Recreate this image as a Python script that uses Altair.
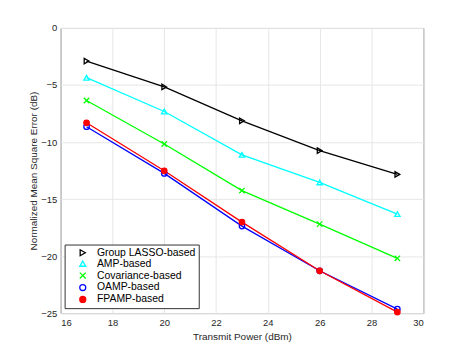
import altair as alt
import pandas as pd

power = [17, 20, 23, 26, 29]
series_names = ["Group LASSO-based", "AMP-based", "Covariance-based", "OAMP-based", "FPAMP-based"]
lasso = [-2.9, -5.17, -8.14, -10.75, -12.84]
amp = [-4.36, -7.32, -11.12, -13.54, -16.32]
cov = [-6.36, -10.17, -14.26, -17.2, -20.2]
oamp = [-8.66, -12.75, -17.37, -21.29, -24.65]
fpamp = [-8.31, -12.52, -17.02, -21.29, -24.91]

colors = ["#000000", "#00FFFF", "#00FF00", "#0000FF", "#FF0000"]
fills = ["transparent", "transparent", "transparent", "transparent", "#FF0000"]
shapes = ["triangle-right", "triangle-up", "M-1,-1L1,1M-1,1L1,-1", "circle", "circle"]

rows = []
for name, vals in zip(series_names, [lasso, amp, cov, oamp, fpamp]):
    for p, v in zip(power, vals):
        rows.append({"power": p, "nmse": v, "series": name})
df = pd.DataFrame(rows)

x = alt.X("power:Q", scale=alt.Scale(domain=[16, 30], nice=False),
          axis=alt.Axis(values=list(range(16, 31, 2)), title="Transmit Power (dBm)"))
y = alt.Y("nmse:Q", scale=alt.Scale(domain=[-25, 0], nice=False),
          axis=alt.Axis(values=[0, -5, -10, -15, -20, -25], title="Normalized Mean Square Error (dB)"))

leg = alt.Legend(title=None, orient="none", legendX=4, legendY=218,
                 labelFontSize=10.5, labelColor="#000000",
                 labelFont="Liberation Sans", labelOffset=9,
                 symbolSize=36, symbolStrokeWidth=1.3,
                 rowPadding=0, padding=3,
                 strokeColor="#333333", fillColor="#ffffff",
                 symbolOffset=10, labelLimit=200)

color_enc = alt.Color("series:N", scale=alt.Scale(domain=series_names, range=colors),
                      sort=series_names, legend=leg)
shape_enc = alt.Shape("series:N", scale=alt.Scale(domain=series_names, range=shapes),
                      sort=series_names, legend=leg)
fill_enc = alt.Fill("series:N", scale=alt.Scale(domain=series_names, range=fills),
                    sort=series_names, legend=leg)

lines = alt.Chart(df).mark_line(strokeWidth=1.3).encode(
    x=x, y=y, color=color_enc,
)

points = alt.Chart(df).mark_point(size=30, strokeWidth=1.3, opacity=1).encode(
    x=x, y=y, stroke=alt.Stroke("series:N", scale=alt.Scale(domain=series_names, range=colors),
                                sort=series_names, legend=leg),
    shape=shape_enc, fill=fill_enc,
)

chart = alt.layer(lines, points).properties(
    width=365, height=287,
    autosize=alt.AutoSizeParams(type="none"),
    padding={"left": 53, "top": 19, "right": 40, "bottom": 30},
).configure_view(
    stroke="#555555", strokeWidth=1
).configure_axis(
    grid=True, gridColor="#e6e6e6", gridWidth=1,
    domain=False, ticks=False,
    labelFont="Liberation Sans", labelFontSize=9.5, labelColor="#262626",
    titleFont="Liberation Sans", titleFontSize=10, titleFontWeight="normal", titleColor="#262626",
    labelPadding=4,
).configure_axisY(titlePadding=2).configure_axisX(titlePadding=5)

chart.save("out.html", embed_options={"renderer": "svg", "actions": False})
